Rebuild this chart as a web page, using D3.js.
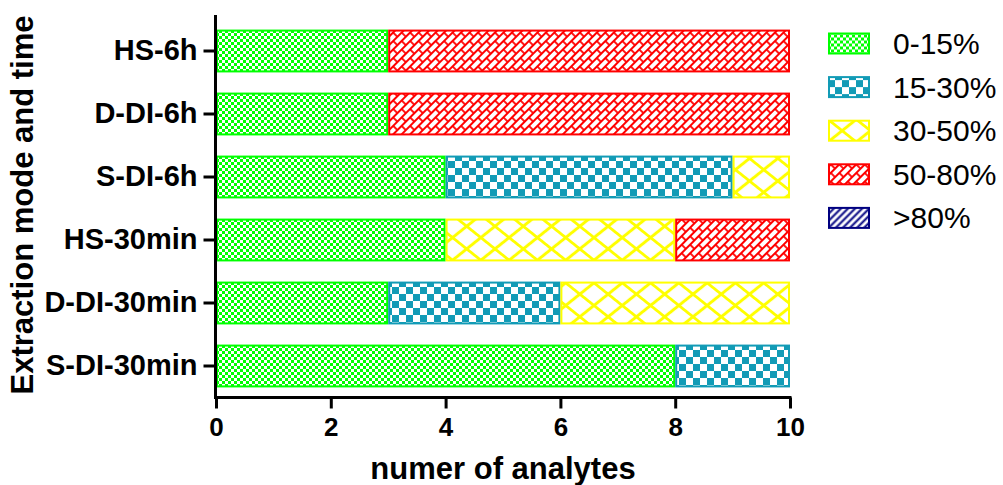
<!DOCTYPE html>
<html>
<head>
<meta charset="utf-8">
<script src="https://cdn.jsdelivr.net/npm/d3@7"></script>
<style>
  html, body { margin: 0; padding: 0; background: #fff; }
  svg { display: block; }
  text { font-family: "Liberation Sans", Arial, sans-serif; }
</style>
</head>
<body>
<svg id="chart" width="1003" height="485"></svg>
<script>
// Categories, top to bottom
const categories = ["HS-6h", "D-DI-6h", "S-DI-6h", "HS-30min", "D-DI-30min", "S-DI-30min"];
// Recovery classes (stack order, left to right)
const classes = ["0-15%", "15-30%", "30-50%", "50-80%", ">80%"];
// Number of analytes per class for each category
const v0_15  = [3, 3, 4, 4, 3, 8];
const v15_30 = [0, 0, 5, 0, 3, 2];
const v30_50 = [0, 0, 1, 4, 4, 0];
const v50_80 = [7, 7, 0, 2, 0, 0];
const v80    = [0, 0, 0, 0, 0, 0];
const xTicks = [0, 2, 4, 6, 8, 10];
const xTitle = "numer of analytes";
const yTitle = "Extraction mode and time";

const seriesValues = [v0_15, v15_30, v30_50, v50_80, v80];
const colors = ["#00ff00", "#129bb6", "#ffff00", "#ff0000", "#000080"];

const table = categories.map((c, i) => {
  const row = { cat: c };
  classes.forEach((k, j) => { row[k] = seriesValues[j][i]; });
  return row;
});

const svg = d3.select("#chart");
const defs = svg.append("defs");

// Fill patterns, one per class
// green fine checkerboard
const pGreen = defs.append("pattern").attr("id", "pat0").attr("patternUnits", "userSpaceOnUse")
  .attr("width", 6).attr("height", 6);
pGreen.append("rect").attr("width", 6).attr("height", 6).attr("fill", colors[0]);
pGreen.append("rect").attr("width", 3).attr("height", 3).attr("fill", "#fff");
pGreen.append("rect").attr("x", 3).attr("y", 3).attr("width", 3).attr("height", 3).attr("fill", "#fff");

// teal coarse checkerboard
const pTeal = defs.append("pattern").attr("id", "pat1").attr("patternUnits", "userSpaceOnUse")
  .attr("width", 14).attr("height", 14);
pTeal.append("rect").attr("width", 14).attr("height", 14).attr("fill", colors[1]);
pTeal.append("rect").attr("width", 7).attr("height", 7).attr("fill", "#fff");
pTeal.append("rect").attr("x", 7).attr("y", 7).attr("width", 7).attr("height", 7).attr("fill", "#fff");

// yellow diagonal lattice (slightly flattened diamonds)
const pYellow = defs.append("pattern").attr("id", "pat2").attr("patternUnits", "userSpaceOnUse")
  .attr("width", 20).attr("height", 20).attr("patternTransform", "scale(1,0.8) rotate(45)");
pYellow.append("rect").attr("width", 20).attr("height", 20).attr("fill", "#fff");
pYellow.append("path").attr("d", "M0,10H20M10,0V20")
  .attr("stroke", colors[2]).attr("stroke-width", 3.4).attr("fill", "none");

// red diagonal brick
const pRed = defs.append("pattern").attr("id", "pat3").attr("patternUnits", "userSpaceOnUse")
  .attr("width", 12).attr("height", 12).attr("patternTransform", "rotate(-45)");
pRed.append("rect").attr("width", 12).attr("height", 12).attr("fill", "#fff");
pRed.append("path").attr("d", "M0,1H12M0,7H12M3,1V7M9,7V13M9,-1V1")
  .attr("stroke", colors[3]).attr("stroke-width", 1.8).attr("fill", "none");

// navy diagonal stripes
const pNavy = defs.append("pattern").attr("id", "pat4").attr("patternUnits", "userSpaceOnUse")
  .attr("width", 5).attr("height", 5).attr("patternTransform", "rotate(-45)");
pNavy.append("rect").attr("width", 5).attr("height", 5).attr("fill", "#fff");
pNavy.append("path").attr("d", "M0,2.5H5")
  .attr("stroke", colors[4]).attr("stroke-width", 2).attr("fill", "none");

// Scales
const x = d3.scaleLinear().domain([0, 10]).range([216, 790]);
const y = d3.scaleBand().domain(categories).range([19.5, 397.5])
  .paddingInner(0.32).paddingOuter(0.16);

// Stacked bars
const stack = d3.stack().keys(classes)(table);
const layers = svg.append("g").selectAll("g").data(stack).join("g")
  .attr("fill", (d, i) => `url(#pat${i})`)
  .attr("stroke", (d, i) => colors[i]);
layers.selectAll("rect").data(d => d.filter(s => s[1] - s[0] > 0)).join("rect")
  .attr("x", d => x(d[0]) + 1)
  .attr("y", d => y(d.data.cat) + 1)
  .attr("width", d => x(d[1]) - x(d[0]) - 2)
  .attr("height", y.bandwidth() - 2)
  .attr("stroke-width", 2);

// X axis
const xAxis = svg.append("g").attr("transform", "translate(0,397.5)")
  .call(d3.axisBottom(x).tickValues(xTicks).tickSize(11).tickPadding(9).tickSizeOuter(0));
xAxis.select(".domain").attr("stroke", "#000").attr("stroke-width", 3).attr("d", "M214.5,0H791.5");
xAxis.selectAll(".tick line").attr("stroke", "#000").attr("stroke-width", 3);
xAxis.selectAll(".tick text").attr("fill", "#000").attr("font-size", 26).attr("font-weight", "bold");

// Y axis
const yAxis = svg.append("g").attr("transform", "translate(215.5,0)")
  .call(d3.axisLeft(y).tickSize(12).tickPadding(6).tickSizeOuter(0));
yAxis.select(".domain").attr("stroke", "#000").attr("stroke-width", 3).attr("d", "M0,15V399");
yAxis.selectAll(".tick line").attr("stroke", "#000").attr("stroke-width", 3);
yAxis.selectAll(".tick text").attr("fill", "#000").attr("font-size", 29).attr("font-weight", "bold");

// Axis titles
svg.append("text").attr("x", 503).attr("y", 479).attr("text-anchor", "middle")
  .attr("font-size", 31).attr("font-weight", "bold").text(xTitle);
svg.append("text").attr("transform", "translate(33,205) rotate(-90)").attr("text-anchor", "middle")
  .attr("font-size", 31).attr("font-weight", "bold").text(yTitle);

// Legend
const legend = svg.append("g").selectAll("g").data(classes).join("g")
  .attr("transform", (d, i) => `translate(828,${43.5 + i * 43.6})`);
legend.append("rect").attr("x", 1).attr("y", -10).attr("width", 40).attr("height", 20)
  .attr("fill", (d, i) => `url(#pat${i})`)
  .attr("stroke", (d, i) => colors[i]).attr("stroke-width", 2);
legend.append("text").attr("x", 65).attr("y", 10.5)
  .attr("font-size", 30).attr("fill", "#000").text(d => d);
</script>
</body>
</html>
